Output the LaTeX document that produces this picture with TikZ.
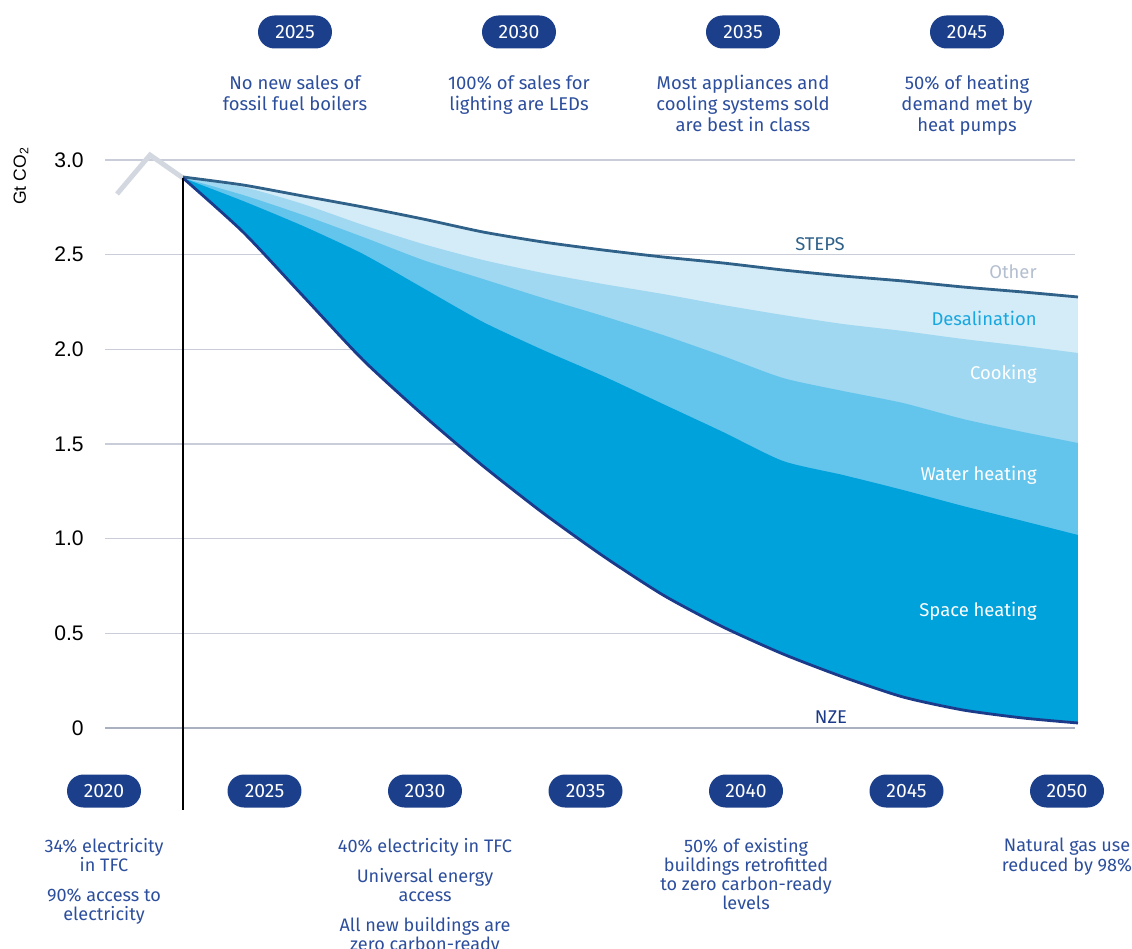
\documentclass[tikz,border=0pt]{standalone}
\usepackage{fontspec}
\setmainfont{Fira Sans}
\newfontfamily\axisfont{Liberation Sans}

\definecolor{pillblue}{HTML}{1B3F8B}
\definecolor{noteblue}{HTML}{2C4E9C}
\definecolor{gridgray}{HTML}{C8CDD9}
\definecolor{zerogray}{HTML}{A9B0C0}
\definecolor{histgray}{HTML}{D3D8E0}
\definecolor{stepsblue}{HTML}{2F6189}
\definecolor{nzeblue}{HTML}{1C3A8A}
\definecolor{bandother}{HTML}{D4ECF7}
\definecolor{bandcook}{HTML}{A0D8F2}
\definecolor{bandwater}{HTML}{64C5EC}
\definecolor{bandspace}{HTML}{00A2DC}
\definecolor{desalblue}{HTML}{19A7E0}
\definecolor{othergray}{HTML}{B3BECF}

\tikzset{
	yearpill/.style={fill=pillblue, text=white, rounded corners=0.33cm, minimum width=1.48cm, minimum height=0.66cm, inner sep=0pt, font=\fontsize{11}{13}\selectfont},
	milestone/.style={text=noteblue, align=center, anchor=north, inner sep=0pt, font=\fontsize{10.5}{12}\selectfont},
	lowstone/.style={milestone, font=\fontsize{10.3}{10.9}\selectfont},
	ticklabel/.style={anchor=east, inner sep=0pt, font=\axisfont\fontsize{12}{14}\selectfont},
	bandlabel/.style={anchor=east, inner sep=0pt, font=\fontsize{10.5}{12}\selectfont}
}

\begin{document}
\begin{tikzpicture}[x=0.02cm, y=-0.02cm]
	\useasboundingbox (0,0) rectangle (1132,949);

	% grid
	\foreach \v [count=\i from 0] in {3.0,2.5,2.0,1.5,1.0,0.5,0} {
		\draw[gridgray, line width=0.6pt] (105,160+94.67*\i) -- (1075,160+94.67*\i);
		\node[ticklabel] (tick\i) at (84,160+94.67*\i) {\v};
	}
	\draw[zerogray, line width=0.6pt] (105,728) -- (1075,728);
	\node[rotate=90, font=\axisfont\fontsize{10}{12}\selectfont] (unit) at (21,176) {Gt CO\textsubscript{2}};

	% history
	\draw[histgray, line width=2.8pt] (117,194) -- (150,155) -- (183,178);

	% bands
	\begin{scope}
		\clip plot[smooth, tension=0.4] coordinates {(183,178) (243,232) (303,296) (363,360) (423,415) (483,466) (543,513) (603,556) (663,595) (723,627) (783,654) (843,677) (903,697) (963,710) (1023,718) (1078,723)} -- (1078,150) -- (183,150) -- cycle;
		\fill[bandother] plot[smooth, tension=0.4] coordinates {(183,177) (243,185) (303,196) (363,207) (423,219) (483,232) (543,242) (603,250) (663,257) (723,263) (783,270) (843,276) (903,281) (963,287) (1023,292) (1078,297)} -- (1078,760) -- (183,760) -- cycle;
		\fill[bandcook] plot[smooth, tension=0.4] coordinates {(183,178) (243,187) (303,204) (363,225) (423,244) (483,260) (543,273) (603,284) (663,294) (723,305) (783,315) (843,324) (903,331) (963,339) (1023,346) (1078,353)} -- (1078,760) -- (183,760) -- cycle;
		\fill[bandwater] plot[smooth, tension=0.4] coordinates {(183,178) (243,195) (303,215) (363,237) (423,260) (483,279) (543,298) (603,316) (663,335) (723,356) (783,378) (843,391) (903,403) (963,419) (1023,432) (1078,443)} -- (1078,760) -- (183,760) -- cycle;
		\fill[bandspace] plot[smooth, tension=0.4] coordinates {(183,178) (243,201) (303,226) (363,254) (423,288) (483,322) (543,350) (603,376) (663,404) (723,432) (783,461) (843,475) (903,490) (963,506) (1023,521) (1078,535)} -- (1078,760) -- (183,760) -- cycle;
	\end{scope}

	% scenario lines
	\draw[stepsblue, line width=1.6pt] plot[smooth, tension=0.4] coordinates {(183,177) (243,185) (303,196) (363,207) (423,219) (483,232) (543,242) (603,250) (663,257) (723,263) (783,270) (843,276) (903,281) (963,287) (1023,292) (1078,297)};
	\draw[nzeblue, line width=1.6pt] plot[smooth, tension=0.4] coordinates {(183,178) (243,232) (303,296) (363,360) (423,415) (483,466) (543,513) (603,556) (663,595) (723,627) (783,654) (843,677) (903,697) (963,710) (1023,718) (1078,723)};

	% start marker
	\coordinate (start) at (183,178);
	\coordinate (startfoot) at (183,810);
	\draw[black, line width=0.6pt] (start) -- (startfoot);

	% labels
	\node[text=stepsblue, font=\fontsize{10.5}{12}\selectfont] (steps) at (820,244) {STEPS};
	\node[bandlabel, text=othergray] (other) at (1037,272) {Other};
	\node[bandlabel, text=desalblue] (desal) at (1037,318) {Desalination};
	\node[bandlabel, text=white] (cook) at (1037,374) {Cooking};
	\node[bandlabel, text=white] (water) at (1037,475) {Water heating};
	\node[bandlabel, text=white] (space) at (1037,611) {Space heating};
	\node[text=nzeblue, font=\fontsize{10.5}{12}\selectfont] (nze) at (831,717) {NZE};

	% top milestones
	\node[yearpill] (top2025) at (295,32) {2025};
	\node[yearpill] (top2030) at (519,32) {2030};
	\node[yearpill] (top2035) at (743,32) {2035};
	\node[yearpill] (top2045) at (967,32) {2045};
	\node[milestone] (note2025) at (295,75) {No new sales of\\fossil fuel boilers};
	\node[milestone] (note2030) at (519,75) {100\% of sales for\\lighting are LEDs};
	\node[milestone] (note2035) at (743,75) {Most appliances and\\cooling systems sold\\are best in class};
	\node[milestone] (note2045) at (967,75) {50\% of heating\\demand met by\\heat pumps};

	% bottom milestones
	\foreach \yr [count=\i from 0] in {2020,2025,2030,2035,2040,2045,2050}
		\node[yearpill] (bot\yr) at (104+160.5*\i,791) {\yr};
	\node[lowstone] (low2020) at (104,838) {34\% electricity\\in TFC\\[6pt]90\% access to\\electricity};
	\node[lowstone] (low2030) at (425,838) {40\% electricity in TFC\\[6pt]Universal energy\\access\\[6pt]All new buildings are\\zero carbon-ready};
	\node[lowstone] (low2040) at (746,838) {50\% of existing\\buildings retrofitted\\to zero carbon-ready\\levels};
	\node[lowstone] (low2050) at (1067,838) {Natural gas use\\reduced by 98\%};
\end{tikzpicture}
\end{document}
